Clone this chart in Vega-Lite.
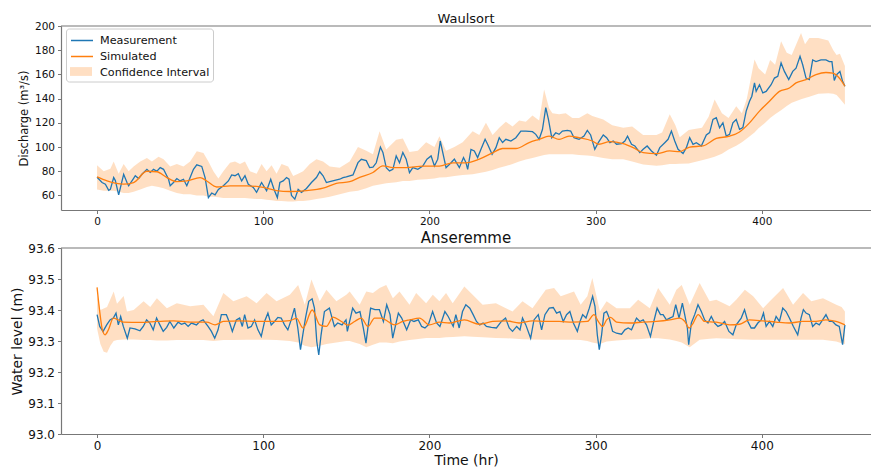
{
"$schema": "https://vega.github.io/schema/vega-lite/v6.json",
"padding": {"left": 10, "top": 13, "right": 0, "bottom": 0},
"autosize": {"type": "pad"},
"bounds": "flush",
"spacing": 38,
"config": {
  "font": "DejaVu Sans",
  "view": {"stroke": null},
  "axis": {"grid": false, "domainColor": "#777", "domainWidth": 1.2, "tickColor": "#777", "tickWidth": 1, "tickSize": 3.5, "labelPadding": 3, "labelColor": "#111", "titleColor": "#111", "titleFontWeight": "normal", "labelFont": "DejaVu Sans", "titleFont": "DejaVu Sans", "labelOverlap": false},
  "title": {"font": "DejaVu Sans", "fontWeight": "normal", "color": "#111"}
},
"datasets": {
  "wmeas": [
    {"t":0,"v":75},{"t":3,"v":70.7},{"t":5,"v":69.3},{"t":7,"v":64.3},{"t":8,"v":65},{"t":10,"v":74.8},{"t":11,"v":72.3},{"t":13,"v":60.5},{"t":16,"v":77.5},{"t":18,"v":70.7},{"t":19,"v":68},{"t":22,"v":74.2},{"t":23,"v":76.3},{"t":25,"v":74},{"t":27,"v":77.5},{"t":30,"v":81.6},{"t":32,"v":79},{"t":34,"v":81.6},{"t":36,"v":80},{"t":38,"v":83},{"t":40,"v":81.6},{"t":43,"v":73.4},{"t":44,"v":68},{"t":46,"v":70.7},{"t":48,"v":74},{"t":50,"v":72},{"t":52,"v":73.4},{"t":54,"v":68},{"t":56,"v":74.8},{"t":58,"v":81.6},{"t":60,"v":85.3},{"t":63,"v":84},{"t":65,"v":74.8},{"t":67,"v":58.3},{"t":69,"v":62},{"t":71,"v":60.5},{"t":73,"v":65},{"t":76,"v":68},{"t":79,"v":72},{"t":81,"v":77},{"t":83,"v":76.3},{"t":85,"v":78},{"t":87,"v":72},{"t":89,"v":76.3},{"t":91,"v":69.3},{"t":94,"v":66.6},{"t":96,"v":62.6},{"t":99,"v":70.7},{"t":102,"v":63.9},{"t":104.5,"v":73.4},{"t":106.5,"v":65},{"t":108.5,"v":58.3},{"t":110,"v":70.7},{"t":112,"v":72},{"t":114,"v":74.8},{"t":115.5,"v":73.4},{"t":117,"v":60},{"t":119,"v":57},{"t":121,"v":65},{"t":123,"v":62.6},{"t":126,"v":65.8},{"t":129,"v":70.7},{"t":132,"v":74.8},{"t":134,"v":79.6},{"t":136,"v":76.3},{"t":138,"v":70.7},{"t":140,"v":71.4},{"t":143,"v":72.5},{"t":146,"v":73.4},{"t":148,"v":74.8},{"t":150,"v":75.3},{"t":154,"v":77},{"t":157,"v":87.1},{"t":159,"v":89.9},{"t":162,"v":88.8},{"t":164,"v":83},{"t":166,"v":83.4},{"t":168,"v":87},{"t":170.5,"v":100},{"t":172,"v":95.6},{"t":174,"v":83},{"t":176,"v":80.3},{"t":178,"v":81.6},{"t":180,"v":92.7},{"t":182,"v":87},{"t":184,"v":95.6},{"t":186,"v":90},{"t":188,"v":78.9},{"t":190,"v":83},{"t":193,"v":81.6},{"t":196,"v":84.3},{"t":198.5,"v":90},{"t":201,"v":92.7},{"t":203,"v":84.3},{"t":205,"v":90},{"t":206.5,"v":105},{"t":208,"v":95.6},{"t":210,"v":83},{"t":213,"v":87},{"t":215,"v":90},{"t":218,"v":83},{"t":220.5,"v":91.3},{"t":222,"v":87},{"t":223,"v":81.6},{"t":225,"v":98.1},{"t":227,"v":96.8},{"t":229,"v":91.3},{"t":231,"v":98.1},{"t":233.5,"v":106.4},{"t":235,"v":102.3},{"t":237.7,"v":94},{"t":240,"v":99.5},{"t":242,"v":107.7},{"t":244,"v":103.7},{"t":246,"v":106.4},{"t":249,"v":105},{"t":252,"v":107.7},{"t":255,"v":113.2},{"t":258,"v":113.2},{"t":262,"v":112.7},{"t":264,"v":110.5},{"t":266,"v":106.4},{"t":268,"v":114.5},{"t":270,"v":132.5},{"t":271.6,"v":122.9},{"t":273.6,"v":107.7},{"t":276,"v":111.8},{"t":278,"v":110.5},{"t":280,"v":113.2},{"t":283,"v":113.7},{"t":285,"v":113.2},{"t":287,"v":107.7},{"t":290,"v":106.4},{"t":293,"v":109},{"t":295,"v":113.7},{"t":297,"v":110},{"t":299.5,"v":98.1},{"t":301.6,"v":103.6},{"t":304.6,"v":110},{"t":306.6,"v":107.7},{"t":308.6,"v":103.6},{"t":310.6,"v":105},{"t":312.6,"v":102.3},{"t":315.6,"v":102.8},{"t":317.6,"v":105},{"t":319.2,"v":109},{"t":321.6,"v":102.3},{"t":323.6,"v":100.9},{"t":326.6,"v":95.4},{"t":328.6,"v":98.1},{"t":331,"v":100.9},{"t":333.6,"v":96.8},{"t":336.6,"v":93.2},{"t":338.6,"v":99.5},{"t":341.6,"v":103.6},{"t":343.6,"v":106.4},{"t":345.6,"v":113.2},{"t":347.6,"v":105},{"t":349.6,"v":98.1},{"t":352.6,"v":94.6},{"t":354.6,"v":99.5},{"t":356.6,"v":107.7},{"t":358.6,"v":102.3},{"t":360.6,"v":103.6},{"t":363.6,"v":100.9},{"t":366.6,"v":110},{"t":368.6,"v":111.9},{"t":370.6,"v":122.8},{"t":372.6,"v":124.2},{"t":374.6,"v":116},{"t":376.6,"v":120.1},{"t":378.6,"v":109.1},{"t":380.6,"v":110.5},{"t":382.6,"v":120.1},{"t":384.6,"v":122.8},{"t":386.6,"v":114.6},{"t":388.6,"v":116},{"t":390.6,"v":129.7},{"t":392.6,"v":137.9},{"t":394,"v":142},{"t":395.6,"v":153},{"t":396.6,"v":146},{"t":398.6,"v":151.5},{"t":400.6,"v":144.7},{"t":402.6,"v":146},{"t":405.6,"v":151.5},{"t":407.6,"v":157},{"t":409.6,"v":158.4},{"t":411.6,"v":169.5},{"t":413.6,"v":162.5},{"t":416.2,"v":155.7},{"t":418.6,"v":162.5},{"t":420.6,"v":165.2},{"t":423,"v":175},{"t":424.6,"v":168},{"t":426.6,"v":157},{"t":428.6,"v":155.7},{"t":430.6,"v":172},{"t":432.6,"v":170.6},{"t":435.6,"v":172},{"t":438.6,"v":172},{"t":440.6,"v":170.6},{"t":442.2,"v":170.6},{"t":443.6,"v":155},{"t":445,"v":159.8},{"t":447,"v":162.5},{"t":448.6,"v":154.3},{"t":450,"v":150.2}
  ],
  "wsim": [
    {"t":0,"v":75.3},{"t":6,"v":72},{"t":16,"v":69.3},{"t":22,"v":70.7},{"t":30,"v":80},{"t":36,"v":79.6},{"t":42,"v":74.8},{"t":48,"v":71.4},{"t":54,"v":72},{"t":62,"v":74.8},{"t":66,"v":72},{"t":72,"v":67},{"t":80,"v":68},{"t":90,"v":68},{"t":100,"v":66.6},{"t":108,"v":64},{"t":116,"v":63.3},{"t":126,"v":64},{"t":136,"v":66},{"t":144,"v":70},{"t":152,"v":71.4},{"t":158,"v":75},{"t":166,"v":79},{"t":172,"v":84.5},{"t":178,"v":83},{"t":186,"v":83},{"t":196,"v":84.3},{"t":206,"v":84.3},{"t":214,"v":87},{"t":222,"v":87},{"t":230,"v":90},{"t":238,"v":95.2},{"t":244,"v":98.8},{"t":252,"v":98.8},{"t":260,"v":103.7},{"t":266,"v":106.4},{"t":272,"v":109},{"t":278,"v":106.4},{"t":284,"v":109},{"t":290,"v":107.7},{"t":298,"v":105},{"t":302,"v":102.3},{"t":308.6,"v":104.5},{"t":316.6,"v":102.8},{"t":322.6,"v":99.5},{"t":328.6,"v":95.4},{"t":336.6,"v":94.6},{"t":344.6,"v":96.8},{"t":350.6,"v":96.2},{"t":356.6,"v":100},{"t":364.6,"v":100.9},{"t":372.6,"v":107.1},{"t":380.6,"v":109},{"t":386.6,"v":112.5},{"t":392.6,"v":120},{"t":398.6,"v":129.7},{"t":404.6,"v":137.9},{"t":410.6,"v":146},{"t":416.6,"v":148.8},{"t":420.6,"v":153},{"t":426.6,"v":155.7},{"t":432.6,"v":159.8},{"t":438.6,"v":161.6},{"t":442.6,"v":161},{"t":446.6,"v":157},{"t":450,"v":150.2}
  ],
  "wci": [
    {"t":0,"lo":65,"hi":85},{"t":4,"lo":64,"hi":80},{"t":8,"lo":64,"hi":82},{"t":10,"lo":64,"hi":88},{"t":13,"lo":63,"hi":78},{"t":16,"lo":62,"hi":86},{"t":19,"lo":62,"hi":80},{"t":22,"lo":63,"hi":84},{"t":26,"lo":65,"hi":88},{"t":30,"lo":67,"hi":91},{"t":33,"lo":68,"hi":88},{"t":37,"lo":67,"hi":92},{"t":40,"lo":66,"hi":90},{"t":44,"lo":64,"hi":84},{"t":48,"lo":62,"hi":86},{"t":52,"lo":61,"hi":84},{"t":56,"lo":61,"hi":88},{"t":60,"lo":60,"hi":96.5},{"t":64,"lo":60,"hi":95},{"t":67,"lo":59,"hi":88},{"t":70,"lo":59,"hi":80},{"t":73,"lo":58.5,"hi":74},{"t":76,"lo":58,"hi":80},{"t":80,"lo":58,"hi":87},{"t":83,"lo":58,"hi":88},{"t":86,"lo":58,"hi":86},{"t":89,"lo":58,"hi":88},{"t":92,"lo":57.5,"hi":80},{"t":96,"lo":57,"hi":78},{"t":99,"lo":57,"hi":86},{"t":102,"lo":56.5,"hi":80},{"t":105,"lo":56,"hi":85},{"t":108,"lo":55.5,"hi":78},{"t":111,"lo":55.5,"hi":86},{"t":115,"lo":55,"hi":84},{"t":118,"lo":55,"hi":76},{"t":121,"lo":55.5,"hi":78},{"t":124,"lo":55.5,"hi":80},{"t":128,"lo":56,"hi":86},{"t":132,"lo":57,"hi":90},{"t":136,"lo":58,"hi":88},{"t":140,"lo":59,"hi":84},{"t":146,"lo":61,"hi":83},{"t":152,"lo":63,"hi":88},{"t":157,"lo":64,"hi":100},{"t":162,"lo":66,"hi":97},{"t":166,"lo":68,"hi":94},{"t":170,"lo":69,"hi":113},{"t":174,"lo":70,"hi":98},{"t":180,"lo":71,"hi":106},{"t":184,"lo":72,"hi":107},{"t":188,"lo":72,"hi":96},{"t":193,"lo":73,"hi":97},{"t":198,"lo":73.5,"hi":104},{"t":203,"lo":74,"hi":100},{"t":206,"lo":74.8,"hi":109},{"t":210,"lo":75,"hi":97},{"t":215,"lo":76,"hi":100},{"t":220,"lo":77,"hi":104},{"t":226,"lo":77.5,"hi":113},{"t":230,"lo":78.5,"hi":110},{"t":234,"lo":79.5,"hi":120},{"t":238,"lo":81,"hi":110},{"t":242,"lo":83,"hi":116},{"t":246,"lo":84.3,"hi":120.8},{"t":250,"lo":86,"hi":117},{"t":254,"lo":88,"hi":122},{"t":258,"lo":89.8,"hi":121},{"t":262,"lo":91,"hi":126},{"t":266,"lo":92.5,"hi":122},{"t":269,"lo":93.5,"hi":147.6},{"t":272,"lo":94,"hi":132},{"t":274,"lo":94,"hi":128},{"t":278,"lo":94,"hi":127},{"t":282,"lo":94,"hi":128},{"t":286,"lo":94,"hi":124},{"t":290,"lo":93.5,"hi":124},{"t":295,"lo":93,"hi":128},{"t":298,"lo":92.7,"hi":125.6},{"t":304.6,"lo":91,"hi":122.8},{"t":310,"lo":90,"hi":118},{"t":316.6,"lo":90,"hi":116},{"t":322,"lo":88,"hi":117},{"t":328.6,"lo":85.5,"hi":110},{"t":336.6,"lo":84.6,"hi":110},{"t":340,"lo":85,"hi":112},{"t":344.6,"lo":86,"hi":127},{"t":348,"lo":86,"hi":118},{"t":350.6,"lo":86.2,"hi":108},{"t":356,"lo":86.5,"hi":114},{"t":364,"lo":89,"hi":116},{"t":368,"lo":90.5,"hi":125},{"t":371.6,"lo":92,"hi":139.3},{"t":376,"lo":94.5,"hi":128},{"t":380,"lo":98,"hi":124},{"t":384.6,"lo":101,"hi":133.8},{"t":388,"lo":104,"hi":128},{"t":391,"lo":107,"hi":140},{"t":395.6,"lo":112,"hi":172.3},{"t":398,"lo":115.5,"hi":165},{"t":402,"lo":120,"hi":160},{"t":405,"lo":124,"hi":172},{"t":408,"lo":127,"hi":168},{"t":411.6,"lo":130.5,"hi":187.4},{"t":415,"lo":134,"hi":178},{"t":418,"lo":136.5,"hi":176},{"t":423.6,"lo":139.5,"hi":194.2},{"t":426,"lo":140.5,"hi":185},{"t":428.6,"lo":141.5,"hi":190},{"t":434,"lo":144,"hi":190},{"t":440,"lo":144.5,"hi":188},{"t":443,"lo":144,"hi":180},{"t":445,"lo":143,"hi":176},{"t":447,"lo":140,"hi":177},{"t":450,"lo":135,"hi":167}
  ],
  "ameas": [
    {"t":0,"v":93.385},{"t":1.6,"v":93.347},{"t":3.6,"v":93.331},{"t":5.8,"v":93.352},{"t":7.8,"v":93.368},{"t":9.8,"v":93.374},{"t":11.4,"v":93.39},{"t":12.8,"v":93.352},{"t":14.2,"v":93.379},{"t":15.8,"v":93.347},{"t":18.2,"v":93.309},{"t":19.8,"v":93.342},{"t":22.8,"v":93.339},{"t":25.8,"v":93.333},{"t":27.8,"v":93.347},{"t":29.8,"v":93.368},{"t":31.8,"v":93.358},{"t":33.8,"v":93.336},{"t":35.8,"v":93.374},{"t":37.8,"v":93.352},{"t":39.8,"v":93.331},{"t":41.9,"v":93.344},{"t":43.8,"v":93.363},{"t":46.2,"v":93.342},{"t":48.8,"v":93.361},{"t":50.8,"v":93.354},{"t":52.8,"v":93.358},{"t":54.8,"v":93.347},{"t":56.8,"v":93.358},{"t":59.8,"v":93.352},{"t":61.8,"v":93.363},{"t":63.8,"v":93.368},{"t":66.8,"v":93.347},{"t":68.8,"v":93.331},{"t":70.8,"v":93.309},{"t":72.8,"v":93.336},{"t":74.8,"v":93.385},{"t":77.8,"v":93.385},{"t":79.8,"v":93.358},{"t":81.4,"v":93.331},{"t":83.8,"v":93.368},{"t":85.8,"v":93.374},{"t":87.4,"v":93.347},{"t":88.8,"v":93.385},{"t":90.8,"v":93.342},{"t":92.8,"v":93.347},{"t":94.8,"v":93.368},{"t":96.8,"v":93.336},{"t":98.8,"v":93.315},{"t":100.8,"v":93.363},{"t":102.8,"v":93.39},{"t":104.8,"v":93.352},{"t":106.8,"v":93.363},{"t":108.8,"v":93.376},{"t":110.8,"v":93.374},{"t":112.8,"v":93.352},{"t":114.8,"v":93.336},{"t":116.8,"v":93.368},{"t":118.8,"v":93.406},{"t":120.8,"v":93.342},{"t":122.4,"v":93.272},{"t":123.8,"v":93.32},{"t":125.4,"v":93.374},{"t":127.4,"v":93.428},{"t":129.4,"v":93.436},{"t":130.8,"v":93.406},{"t":132.2,"v":93.299},{"t":133.4,"v":93.255},{"t":134.8,"v":93.32},{"t":136.8,"v":93.395},{"t":139.8,"v":93.406},{"t":142.8,"v":93.347},{"t":144.8,"v":93.358},{"t":147.4,"v":93.352},{"t":149.8,"v":93.368},{"t":150.6,"v":93.331},{"t":153.8,"v":93.406},{"t":155.8,"v":93.39},{"t":158.2,"v":93.395},{"t":160.2,"v":93.342},{"t":161.8,"v":93.293},{"t":163.2,"v":93.352},{"t":164.6,"v":93.406},{"t":167.2,"v":93.401},{"t":169.9,"v":93.401},{"t":172.3,"v":93.363},{"t":174.3,"v":93.417},{"t":176.3,"v":93.385},{"t":177.9,"v":93.309},{"t":179.9,"v":93.358},{"t":181.3,"v":93.39},{"t":183.3,"v":93.374},{"t":186.3,"v":93.336},{"t":188.7,"v":93.368},{"t":190.7,"v":93.363},{"t":193.3,"v":93.368},{"t":195.3,"v":93.347},{"t":197.3,"v":93.342},{"t":199.3,"v":93.352},{"t":201.9,"v":93.395},{"t":204.3,"v":93.358},{"t":206.3,"v":93.347},{"t":209.3,"v":93.395},{"t":211.3,"v":93.379},{"t":214.3,"v":93.347},{"t":215.9,"v":93.385},{"t":217.9,"v":93.342},{"t":219.9,"v":93.395},{"t":221.9,"v":93.417},{"t":224.3,"v":93.406},{"t":226.3,"v":93.385},{"t":228.3,"v":93.363},{"t":230.3,"v":93.352},{"t":232.3,"v":93.358},{"t":234.3,"v":93.347},{"t":237.3,"v":93.344},{"t":240.3,"v":93.342},{"t":243.3,"v":93.363},{"t":245.8,"v":93.374},{"t":248,"v":93.342},{"t":250,"v":93.331},{"t":252.5,"v":93.347},{"t":254.5,"v":93.336},{"t":256,"v":93.374},{"t":258,"v":93.352},{"t":260.9,"v":93.309},{"t":262.9,"v":93.368},{"t":265.5,"v":93.385},{"t":267.5,"v":93.336},{"t":269.5,"v":93.385},{"t":272.1,"v":93.406},{"t":274.5,"v":93.408},{"t":276.5,"v":93.39},{"t":278.5,"v":93.395},{"t":280.5,"v":93.363},{"t":282.5,"v":93.385},{"t":284.5,"v":93.395},{"t":286.6,"v":93.358},{"t":289,"v":93.331},{"t":290.6,"v":93.363},{"t":292.2,"v":93.385},{"t":294.2,"v":93.374},{"t":296.2,"v":93.406},{"t":298.2,"v":93.444},{"t":299.6,"v":93.412},{"t":301,"v":93.32},{"t":302.2,"v":93.272},{"t":303.6,"v":93.32},{"t":305,"v":93.39},{"t":306.6,"v":93.395},{"t":308.2,"v":93.374},{"t":310.2,"v":93.331},{"t":312.6,"v":93.325},{"t":315.6,"v":93.322},{"t":317.6,"v":93.336},{"t":319.6,"v":93.342},{"t":321.6,"v":93.336},{"t":324.6,"v":93.374},{"t":326.6,"v":93.363},{"t":328.6,"v":93.368},{"t":330.6,"v":93.352},{"t":333,"v":93.315},{"t":335,"v":93.363},{"t":337,"v":93.406},{"t":339,"v":93.385},{"t":340.6,"v":93.385},{"t":342.6,"v":93.368},{"t":344.6,"v":93.374},{"t":346.6,"v":93.379},{"t":348.2,"v":93.417},{"t":350.2,"v":93.374},{"t":352.2,"v":93.422},{"t":353.6,"v":93.385},{"t":355.2,"v":93.342},{"t":356,"v":93.288},{"t":357.6,"v":93.358},{"t":359.6,"v":93.385},{"t":361.6,"v":93.417},{"t":363.6,"v":93.395},{"t":365.6,"v":93.368},{"t":367.6,"v":93.358},{"t":369.6,"v":93.379},{"t":371.6,"v":93.358},{"t":373.6,"v":93.347},{"t":375.6,"v":93.352},{"t":377.6,"v":93.363},{"t":380.2,"v":93.331},{"t":382.6,"v":93.32},{"t":384.6,"v":93.352},{"t":387.6,"v":93.374},{"t":389.6,"v":93.401},{"t":391.6,"v":93.363},{"t":393.6,"v":93.342},{"t":395.6,"v":93.342},{"t":397.6,"v":93.358},{"t":399.6,"v":93.368},{"t":401,"v":93.39},{"t":402.6,"v":93.347},{"t":404.6,"v":93.363},{"t":406.6,"v":93.347},{"t":408.6,"v":93.379},{"t":410.6,"v":93.363},{"t":412.6,"v":93.406},{"t":414.6,"v":93.395},{"t":416.6,"v":93.374},{"t":419,"v":93.347},{"t":421.6,"v":93.32},{"t":423.6,"v":93.374},{"t":425,"v":93.401},{"t":426.6,"v":93.39},{"t":428.6,"v":93.385},{"t":430.6,"v":93.347},{"t":432.6,"v":93.358},{"t":434.6,"v":93.352},{"t":436.6,"v":93.368},{"t":438.6,"v":93.385},{"t":440.6,"v":93.363},{"t":442.6,"v":93.363},{"t":444.6,"v":93.352},{"t":446.6,"v":93.347},{"t":448.6,"v":93.288},{"t":450,"v":93.352}
  ],
  "asim": [
    {"t":0,"v":93.473},{"t":1.6,"v":93.395},{"t":3.2,"v":93.336},{"t":4.8,"v":93.32},{"t":6.8,"v":93.336},{"t":9.8,"v":93.374},{"t":12.8,"v":93.368},{"t":15.8,"v":93.361},{"t":26,"v":93.36},{"t":36,"v":93.363},{"t":46,"v":93.365},{"t":56,"v":93.361},{"t":66,"v":93.361},{"t":71,"v":93.352},{"t":76,"v":93.363},{"t":86,"v":93.365},{"t":96,"v":93.363},{"t":106,"v":93.363},{"t":116,"v":93.366},{"t":120,"v":93.373},{"t":124,"v":93.342},{"t":129.5,"v":93.4},{"t":134,"v":93.352},{"t":138,"v":93.347},{"t":142,"v":93.377},{"t":147,"v":93.363},{"t":151,"v":93.351},{"t":155,"v":93.363},{"t":159,"v":93.374},{"t":163,"v":93.347},{"t":167,"v":93.374},{"t":171,"v":93.374},{"t":175,"v":93.363},{"t":179,"v":93.352},{"t":184,"v":93.363},{"t":188,"v":93.368},{"t":194,"v":93.374},{"t":200,"v":93.352},{"t":206,"v":93.361},{"t":212,"v":93.358},{"t":221,"v":93.368},{"t":230,"v":93.354},{"t":238,"v":93.363},{"t":246,"v":93.365},{"t":254,"v":93.358},{"t":262,"v":93.365},{"t":270,"v":93.363},{"t":278,"v":93.363},{"t":286,"v":93.361},{"t":295,"v":93.363},{"t":299,"v":93.385},{"t":301.6,"v":93.363},{"t":304.2,"v":93.347},{"t":306.6,"v":93.368},{"t":309,"v":93.376},{"t":312.6,"v":93.361},{"t":320.6,"v":93.358},{"t":328.6,"v":93.361},{"t":336.6,"v":93.363},{"t":344.6,"v":93.368},{"t":350.6,"v":93.374},{"t":353.7,"v":93.363},{"t":356.3,"v":93.342},{"t":358.7,"v":93.358},{"t":361.7,"v":93.385},{"t":365.6,"v":93.363},{"t":372.6,"v":93.361},{"t":380.6,"v":93.352},{"t":386.6,"v":93.354},{"t":392.6,"v":93.368},{"t":400.6,"v":93.365},{"t":408.6,"v":93.361},{"t":416.6,"v":93.358},{"t":424.6,"v":93.363},{"t":432.6,"v":93.363},{"t":438.6,"v":93.368},{"t":444.6,"v":93.363},{"t":450,"v":93.352}
  ],
  "aci": [
    {"t":0,"lo":93.34,"hi":93.449},{"t":2,"lo":93.29,"hi":93.4},{"t":4,"lo":93.265,"hi":93.405},{"t":6,"lo":93.262,"hi":93.41},{"t":8,"lo":93.285,"hi":93.435},{"t":10,"lo":93.3,"hi":93.46},{"t":12,"lo":93.303,"hi":93.42},{"t":16,"lo":93.305,"hi":93.445},{"t":18,"lo":93.305,"hi":93.395},{"t":22,"lo":93.305,"hi":93.4},{"t":28,"lo":93.303,"hi":93.428},{"t":32,"lo":93.303,"hi":93.41},{"t":36,"lo":93.302,"hi":93.438},{"t":42,"lo":93.302,"hi":93.406},{"t":48,"lo":93.303,"hi":93.422},{"t":56,"lo":93.303,"hi":93.412},{"t":64,"lo":93.303,"hi":93.417},{"t":70,"lo":93.3,"hi":93.38},{"t":76,"lo":93.303,"hi":93.455},{"t":82,"lo":93.303,"hi":93.428},{"t":90,"lo":93.304,"hi":93.444},{"t":96,"lo":93.304,"hi":93.422},{"t":102,"lo":93.304,"hi":93.455},{"t":108,"lo":93.303,"hi":93.428},{"t":116,"lo":93.3,"hi":93.449},{"t":121,"lo":93.295,"hi":93.481},{"t":125,"lo":93.285,"hi":93.417},{"t":129,"lo":93.28,"hi":93.498},{"t":134,"lo":93.285,"hi":93.428},{"t":138,"lo":93.29,"hi":93.465},{"t":144,"lo":93.295,"hi":93.428},{"t":150,"lo":93.3,"hi":93.449},{"t":152,"lo":93.3,"hi":93.46},{"t":158,"lo":93.29,"hi":93.417},{"t":162,"lo":93.28,"hi":93.46},{"t":166,"lo":93.288,"hi":93.455},{"t":170,"lo":93.295,"hi":93.471},{"t":174,"lo":93.295,"hi":93.481},{"t":178,"lo":93.293,"hi":93.438},{"t":182,"lo":93.298,"hi":93.46},{"t":188,"lo":93.303,"hi":93.417},{"t":192,"lo":93.306,"hi":93.455},{"t":198,"lo":93.31,"hi":93.422},{"t":202,"lo":93.31,"hi":93.449},{"t":206,"lo":93.31,"hi":93.428},{"t":210,"lo":93.312,"hi":93.455},{"t":214,"lo":93.313,"hi":93.422},{"t":221,"lo":93.315,"hi":93.476},{"t":226,"lo":93.314,"hi":93.449},{"t":232,"lo":93.312,"hi":93.417},{"t":240,"lo":93.31,"hi":93.422},{"t":246,"lo":93.309,"hi":93.406},{"t":250,"lo":93.308,"hi":93.395},{"t":256,"lo":93.306,"hi":93.428},{"t":262,"lo":93.305,"hi":93.406},{"t":270,"lo":93.304,"hi":93.465},{"t":275,"lo":93.304,"hi":93.471},{"t":279,"lo":93.304,"hi":93.444},{"t":287,"lo":93.304,"hi":93.46},{"t":291,"lo":93.303,"hi":93.417},{"t":295,"lo":93.3,"hi":93.444},{"t":298,"lo":93.295,"hi":93.503},{"t":302.6,"lo":93.29,"hi":93.395},{"t":306.6,"lo":93.298,"hi":93.428},{"t":312.6,"lo":93.302,"hi":93.406},{"t":320.6,"lo":93.305,"hi":93.406},{"t":325.6,"lo":93.306,"hi":93.433},{"t":332.6,"lo":93.309,"hi":93.406},{"t":337.6,"lo":93.309,"hi":93.471},{"t":344.6,"lo":93.305,"hi":93.417},{"t":348.6,"lo":93.3,"hi":93.465},{"t":351.8,"lo":93.295,"hi":93.481},{"t":356.6,"lo":93.28,"hi":93.417},{"t":362.6,"lo":93.304,"hi":93.487},{"t":368.6,"lo":93.307,"hi":93.428},{"t":372.6,"lo":93.309,"hi":93.433},{"t":380.6,"lo":93.307,"hi":93.412},{"t":384.6,"lo":93.306,"hi":93.433},{"t":389.8,"lo":93.305,"hi":93.465},{"t":394.8,"lo":93.304,"hi":93.444},{"t":400.8,"lo":93.304,"hi":93.406},{"t":404.8,"lo":93.304,"hi":93.428},{"t":412.8,"lo":93.304,"hi":93.471},{"t":418.8,"lo":93.304,"hi":93.417},{"t":424.8,"lo":93.304,"hi":93.455},{"t":429.8,"lo":93.304,"hi":93.428},{"t":436.8,"lo":93.304,"hi":93.438},{"t":444.8,"lo":93.298,"hi":93.417},{"t":448,"lo":93.293,"hi":93.41},{"t":450,"lo":93.29,"hi":93.395}
  ]
},
"resolve": {"legend": {"stroke": "independent", "fill": "independent"}},
"vconcat": [
  {
    "width": 810, "height": 184,
    "title": {"text": "Waulsort", "fontSize": 13, "offset": -5},
    "layer": [
      {"data": {"name": "wci"}, "mark": {"type": "area", "opacity": 0.25},
       "encoding": {
         "x": {"field": "t", "type": "quantitative", "scale": {"domain": [-21.7, 465.7], "nice": false, "zero": false},
               "axis": {"values": [0, 100, 200, 300, 400], "tickCount": 20, "labelFontSize": 10.5, "title": null, "labelOverlap": false}},
         "y": {"field": "lo", "type": "quantitative", "scale": {"domain": [48, 200], "nice": false, "zero": false},
               "axis": {"values": [60, 80, 100, 120, 140, 160, 180, 200], "tickCount": 20, "labelFontSize": 10.5, "title": "Discharge (m³/s)", "titleFontSize": 11.5, "titlePadding": 5, "labelOverlap": false}},
         "y2": {"field": "hi"},
         "fill": {"datum": "Confidence Interval", "type": "nominal",
           "scale": {"domain": ["Confidence Interval"], "range": ["#ff7f0e"]},
           "legend": {"orient": "none", "legendX": 5, "legendY": 34.5, "title": null, "labelExpr": "''", "labelFontSize": 1,
             "symbolType": "M-0.875,-0.55H1.875V0.55H-0.875Z", "symbolSize": 256, "padding": 3, "rowPadding": 0, "symbolStrokeWidth": 0}}
       }},
      {"data": {"name": "wmeas"}, "mark": {"type": "line", "strokeWidth": 1.3},
       "encoding": {"x": {"field": "t", "type": "quantitative"}, "y": {"field": "v", "type": "quantitative"},
         "stroke": {"datum": "Measurement", "type": "nominal",
           "scale": {"domain": ["Measurement", "Simulated", "Confidence Interval"], "range": ["#1f77b4", "#ff7f0e", "rgba(0,0,0,0)"]},
           "legend": {"orient": "none", "legendX": 5, "legendY": 2.5, "title": null, "labelFontSize": 11.2, "labelColor": "#111", "labelOffset": 13,
             "symbolType": "M-0.875,0H1.875", "symbolSize": 256, "symbolStrokeWidth": 1.5, "padding": 3, "rowPadding": 1,
             "strokeColor": "#cccccc", "cornerRadius": 3}}}},
      {"data": {"name": "wsim"}, "mark": {"type": "line", "strokeWidth": 1.3, "interpolate": "monotone"},
       "encoding": {"x": {"field": "t", "type": "quantitative"}, "y": {"field": "v", "type": "quantitative"}, "stroke": {"datum": "Simulated", "type": "nominal"}}},
      {"data": {"values": [{}]}, "mark": {"type": "rule", "color": "#777", "strokeWidth": 1.2},
       "encoding": {"y": {"datum": 200, "type": "quantitative"}}}
    ]
  },
  {
    "width": 810, "height": 186,
    "title": {"text": "Anseremme", "fontSize": 15, "offset": -4},
    "layer": [
      {"data": {"name": "aci"}, "mark": {"type": "area", "color": "#ff7f0e", "opacity": 0.25},
       "encoding": {
         "x": {"field": "t", "type": "quantitative", "scale": {"domain": [-21.7, 465.7], "nice": false, "zero": false},
               "axis": {"values": [0, 100, 200, 300, 400], "tickCount": 20, "labelFontSize": 12, "title": "Time (hr)", "titleFontSize": 14, "titlePadding": 2, "labelOverlap": false}},
         "y": {"field": "lo", "type": "quantitative", "scale": {"domain": [93.0, 93.6], "nice": false, "zero": false},
               "axis": {"values": [93.0, 93.1, 93.2, 93.3, 93.4, 93.5, 93.6], "tickCount": 20, "format": ".1f", "labelFontSize": 12, "title": "Water level (m)", "titleFontSize": 14, "titlePadding": 3, "labelOverlap": false}},
         "y2": {"field": "hi"}
       }},
      {"data": {"name": "ameas"}, "mark": {"type": "line", "color": "#1f77b4", "strokeWidth": 1.3},
       "encoding": {"x": {"field": "t", "type": "quantitative"}, "y": {"field": "v", "type": "quantitative"}}},
      {"data": {"name": "asim"}, "mark": {"type": "line", "color": "#ff7f0e", "strokeWidth": 1.3, "interpolate": "monotone"},
       "encoding": {"x": {"field": "t", "type": "quantitative"}, "y": {"field": "v", "type": "quantitative"}}},
      {"data": {"values": [{}]}, "mark": {"type": "rule", "color": "#777", "strokeWidth": 1.2},
       "encoding": {"y": {"datum": 93.6, "type": "quantitative"}}}
    ]
  }
]
}
